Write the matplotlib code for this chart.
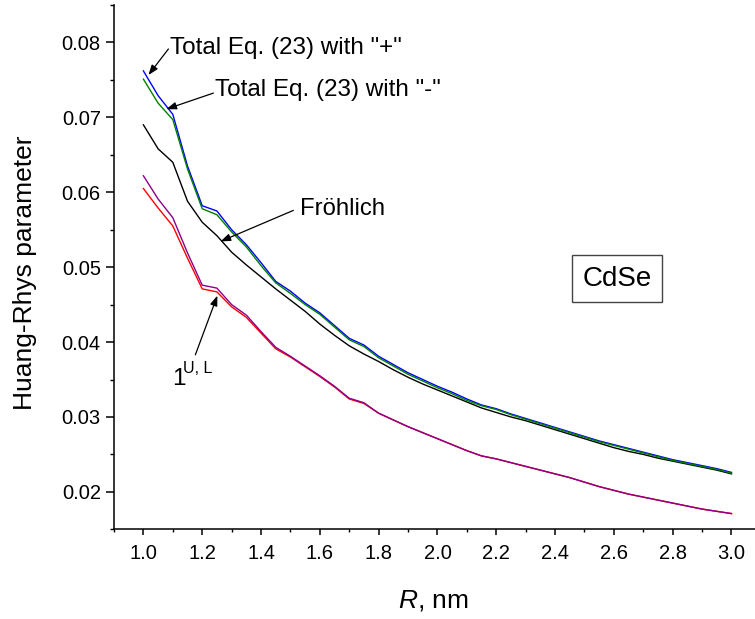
import numpy as np
import matplotlib
matplotlib.use("Agg")
import matplotlib.pyplot as plt
from matplotlib.ticker import MultipleLocator, FormatStrFormatter

plt.rcParams['font.family'] = ['Liberation Sans', 'DejaVu Sans']
plt.rcParams['mathtext.fontset'] = 'custom'
plt.rcParams['mathtext.rm'] = 'Liberation Sans'
plt.rcParams['mathtext.it'] = 'Liberation Sans:italic'

# dot radius, nm
R = [1.00, 1.05, 1.10, 1.15, 1.20, 1.25, 1.30, 1.35, 1.40, 1.45,
     1.50, 1.55, 1.60, 1.65, 1.70, 1.75, 1.80, 1.85, 1.90, 1.95,
     2.00, 2.05, 2.10, 2.15, 2.20, 2.25, 2.30, 2.35, 2.40, 2.45,
     2.50, 2.55, 2.60, 2.65, 2.70, 2.75, 2.80, 2.85, 2.90, 2.95, 3.00]

# Total Eq. (23) with "+"
total_plus = [0.0762, 0.0729, 0.0704, 0.0635, 0.0582, 0.0575, 0.0550, 0.0530, 0.0506, 0.0481,
              0.0468, 0.0452, 0.0439, 0.0422, 0.0405, 0.0396, 0.0381, 0.0370, 0.0359, 0.0350,
              0.0341, 0.0333, 0.0324, 0.0316, 0.0311, 0.0304, 0.0298, 0.0292, 0.0286, 0.0280,
              0.0274, 0.0268, 0.0263, 0.0258, 0.0253, 0.0248, 0.0243, 0.0239, 0.0235, 0.0231, 0.0226]

# Total Eq. (23) with "-"
total_minus = [0.0751, 0.0719, 0.0697, 0.0631, 0.0578, 0.0570, 0.0547, 0.0527, 0.0502, 0.0479,
               0.0465, 0.0450, 0.0437, 0.0420, 0.0403, 0.0394, 0.0379, 0.0368, 0.0357, 0.0348,
               0.0339, 0.0331, 0.0322, 0.0315, 0.0310, 0.0303, 0.0297, 0.0291, 0.0285, 0.0279,
               0.0273, 0.0267, 0.0262, 0.0257, 0.0252, 0.0247, 0.0242, 0.0238, 0.0234, 0.0230, 0.0225]

frohlich = [0.0690, 0.0658, 0.0640, 0.0588, 0.0560, 0.0542, 0.0520, 0.0503, 0.0487, 0.0471,
            0.0456, 0.0441, 0.0424, 0.0409, 0.0395, 0.0384, 0.0374, 0.0363, 0.0353, 0.0344,
            0.0336, 0.0328, 0.0320, 0.0312, 0.0306, 0.0300, 0.0295, 0.0289, 0.0283, 0.0277,
            0.0271, 0.0265, 0.0259, 0.0254, 0.0250, 0.0245, 0.0241, 0.0237, 0.0233, 0.0229, 0.0224]

# 1^U and 1^L
one_red = [0.0605, 0.0579, 0.0555, 0.0512, 0.0471, 0.0467, 0.0447, 0.0433, 0.0412, 0.0391,
           0.0380, 0.0367, 0.0354, 0.0340, 0.0324, 0.0318, 0.0305, 0.0296, 0.0287, 0.0279,
           0.0271, 0.0263, 0.0255, 0.0248, 0.0244, 0.0239, 0.0234, 0.0229, 0.0224, 0.0219,
           0.0213, 0.0207, 0.0202, 0.0197, 0.0193, 0.0189, 0.0185, 0.0181, 0.0177, 0.0174, 0.0171]

one_purple = [0.0622, 0.0591, 0.0566, 0.0519, 0.0476, 0.0472, 0.0450, 0.0436, 0.0414, 0.0393,
              0.0381, 0.0368, 0.0355, 0.0341, 0.0325, 0.0319, 0.0305, 0.0296, 0.0287, 0.0279,
              0.0271, 0.0263, 0.0255, 0.0248, 0.0244, 0.0239, 0.0234, 0.0229, 0.0224, 0.0219,
              0.0213, 0.0207, 0.0202, 0.0197, 0.0193, 0.0189, 0.0185, 0.0181, 0.0177, 0.0174, 0.0171]

fig = plt.figure(figsize=(7.55, 6.19), dpi=100)
ax = fig.add_axes([0.151, 0.1449, 0.849, 0.847])

ax.plot(R, one_red, color='#ff0000', lw=1.0)
ax.plot(R, one_purple, color='#8b008b', lw=1.0)
ax.plot(R, frohlich, color='black', lw=1.0)
ax.plot(R, total_plus, color='#0000ff', lw=1.0)
ax.plot(R, total_minus, color='#008000', lw=1.0)

ax.set_xlim(0.9, 3.08)
ax.set_ylim(0.015, 0.085)

for s in ['top', 'right']:
    ax.spines[s].set_visible(False)
for s in ['left', 'bottom']:
    ax.spines[s].set_linewidth(1.1)

ax.xaxis.set_major_locator(MultipleLocator(0.2))
ax.xaxis.set_minor_locator(MultipleLocator(0.1))
ax.yaxis.set_major_locator(MultipleLocator(0.01))
ax.yaxis.set_minor_locator(MultipleLocator(0.005))
ax.xaxis.set_major_formatter(FormatStrFormatter('%.1f'))
ax.yaxis.set_major_formatter(FormatStrFormatter('%.2f'))
ax.set_xticks([1.0, 1.2, 1.4, 1.6, 1.8, 2.0, 2.2, 2.4, 2.6, 2.8, 3.0])
ax.set_yticks([0.02, 0.03, 0.04, 0.05, 0.06, 0.07, 0.08])

ax.tick_params(axis='x', which='major', direction='out', length=4.5, width=1.1, labelsize=14.5, pad=6)
ax.tick_params(axis='x', which='minor', direction='out', length=2.5, width=1.0)
ax.tick_params(axis='y', which='major', direction='out', length=5.5, width=1.1, labelsize=14.5, pad=4)
ax.tick_params(axis='y', which='minor', direction='out', length=3, width=1.0)

ax.set_ylabel('Huang-Rhys parameter', fontsize=19, va='center')
ax.yaxis.set_label_coords(-0.139, 0.49)
ax.set_xlabel(r'$\it{R}$, nm', fontsize=19, va='center')
ax.xaxis.set_label_coords(0.498, -0.135)

arrow = dict(arrowstyle='-|>,head_length=0.6,head_width=0.22', color='black', lw=0.9,
             shrinkA=0, shrinkB=0)

ax.text(1.092, 0.07846, 'Total Eq. (23) with "+"', fontsize=17.5, va='baseline')
ax.annotate('', xy=(1.017, 0.07565), xytext=(1.085, 0.07913), arrowprops=arrow)

ax.text(1.245, 0.07288, 'Total Eq. (23) with "-"', fontsize=17.5, va='baseline')
ax.annotate('', xy=(1.078, 0.0711), xytext=(1.238, 0.07324), arrowprops=arrow)

ax.text(1.534, 0.05691, 'Fröhlich', fontsize=17.2, va='baseline')
ax.annotate('', xy=(1.262, 0.05343), xytext=(1.510, 0.05758), arrowprops=arrow)

ax.text(1.0986, 0.03428, '1', fontsize=17.5, va='baseline')
ax.text(1.136, 0.03585, 'U, L', fontsize=11.5, va='baseline')
ax.annotate('', xy=(1.2515, 0.0462), xytext=(1.1767, 0.0383), arrowprops=arrow)

ax.text(2.611, 0.04847, 'CdSe', fontsize=20, ha='center', va='center',
        bbox=dict(boxstyle='square,pad=0.38', facecolor='white', edgecolor='#444444', lw=1.0))

fig.savefig('out.png', dpi=100)
